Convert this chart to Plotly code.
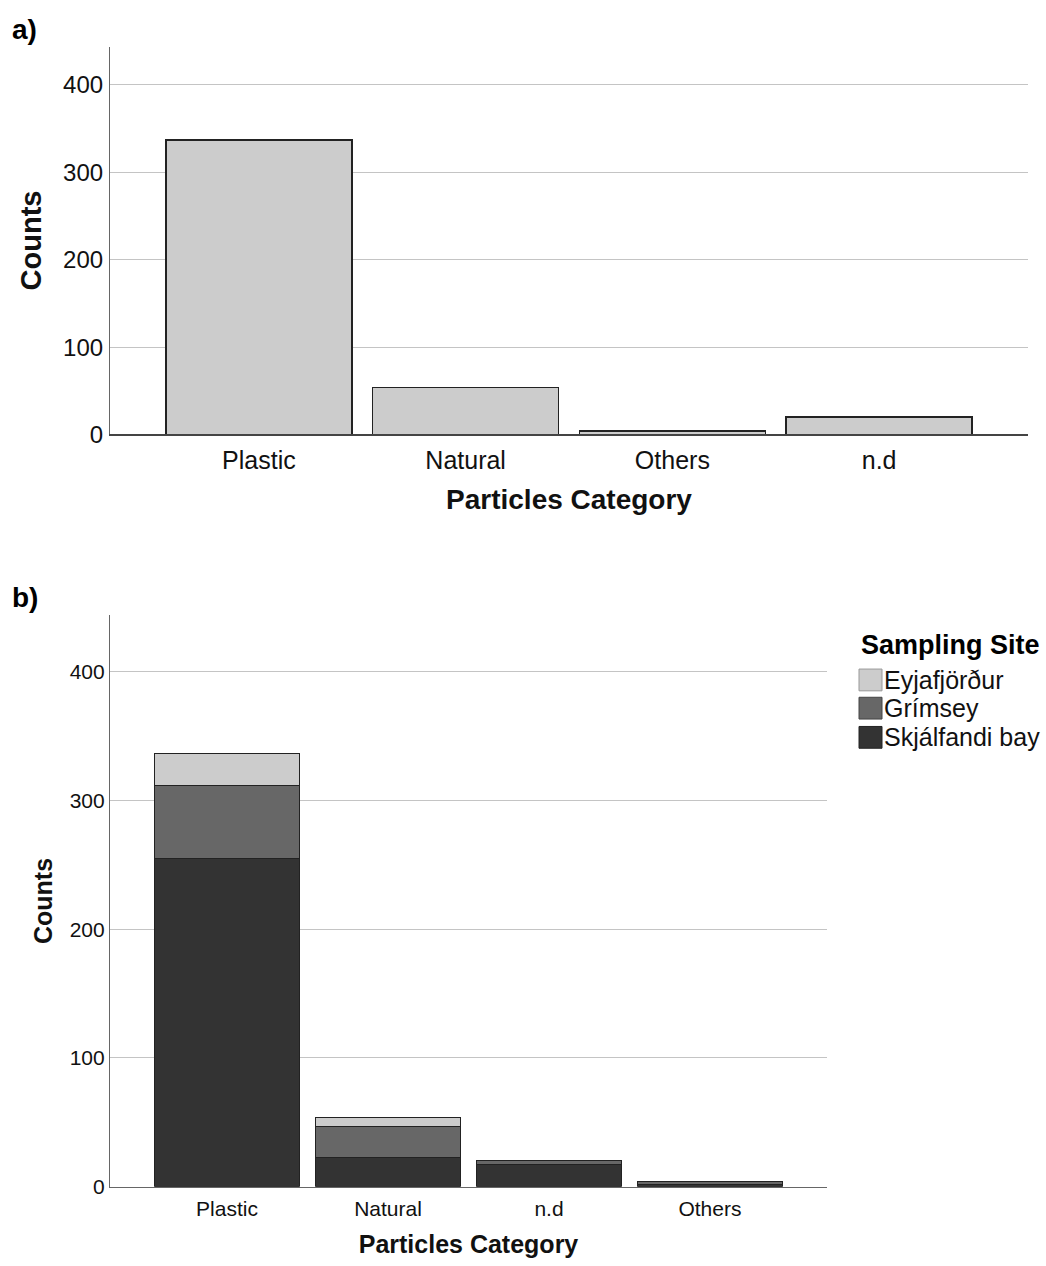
import plotly.graph_objects as go

W, H = 1046, 1266
FONT = "Liberation Sans, Arial, sans-serif"

# ---- data: panel a ----
cats_a = ["Plastic", "Natural", "Others", "n.d"]
counts_a = [337, 54, 4, 20]

# ---- data: panel b ----
cats_b = ["Plastic", "Natural", "n.d", "Others"]
sites = ["Eyjafjörður", "Grímsey", "Skjálfandi bay"]
eyja = [25, 7, 0, 0]
grims = [57, 24, 3, 2]
skjal = [255, 23, 17, 2]
site_colors = ["#cccccc", "#676767", "#333333"]

y_ticks = [0, 100, 200, 300, 400]

fig = go.Figure()

fig.add_trace(go.Bar(
    x=cats_a, y=counts_a, xaxis="x", yaxis="y",
    marker=dict(color="#cccccc", line=dict(color="#222222", width=1.6)),
    name="Counts", showlegend=False,
))

# stacked: bottom to top
for name, vals, col in [(sites[2], skjal, site_colors[2]),
                        (sites[1], grims, site_colors[1]),
                        (sites[0], eyja, site_colors[0])]:
    fig.add_trace(go.Bar(
        x=cats_b, y=vals, xaxis="x2", yaxis="y2", name=name,
        marker=dict(color=col, line=dict(color="#222222", width=1)),
        showlegend=False,
    ))

def px(x):
    return x / W

def py(y):
    return 1 - y / H

axis_common = dict(showgrid=False, ticks="", zeroline=False)

fig.update_layout(
    width=W, height=H,
    margin=dict(l=0, r=0, t=0, b=0),
    paper_bgcolor="white", plot_bgcolor="white",
    barmode="stack", bargap=0.1,
    showlegend=False,
    font=dict(family=FONT, color="#111111"),
    xaxis=dict(
        domain=[px(110), px(1028)], anchor="y", type="category",
        categoryorder="array", categoryarray=cats_a, range=[-0.72, 3.72],
        showline=True, linecolor="#444444", linewidth=1.5,
        tickfont=dict(size=25), ticklabelstandoff=3,
        title=dict(text="<b>Particles Category</b>", font=dict(size=28), standoff=16),
        **axis_common,
    ),
    yaxis=dict(
        domain=[py(439), py(47)], anchor="x", range=[0, 444],
        tickvals=y_ticks, showline=True, linecolor="#666666", linewidth=1.2,
        gridcolor="#c4c4c4", gridwidth=1.2, showgrid=True,
        tickfont=dict(size=24), ticklabelstandoff=1,
        title=dict(text="<b>Counts</b>", font=dict(size=29), standoff=12),
        ticks="", zeroline=False,
    ),
    xaxis2=dict(
        domain=[px(110), px(827)], anchor="y2", type="category",
        categoryorder="array", categoryarray=cats_b, range=[-0.727, 3.727],
        showline=True, linecolor="#666666", linewidth=1.3,
        tickfont=dict(size=21), ticklabelstandoff=3,
        title=dict(text="<b>Particles Category</b>", font=dict(size=25), standoff=16),
        **axis_common,
    ),
    yaxis2=dict(
        domain=[py(1199), py(621.7)], anchor="x2", range=[0, 444],
        tickvals=y_ticks, showline=True, linecolor="#666666", linewidth=1.2,
        gridcolor="#c4c4c4", gridwidth=1.2, showgrid=True,
        tickfont=dict(size=21), ticklabelstandoff=0,
        title=dict(text="<b>Counts</b>", font=dict(size=25), standoff=9),
        ticks="", zeroline=False,
    ),
)

annotations = [
    dict(text="<b>a)</b>", x=px(10), y=py(30), xref="paper", yref="paper",
         xanchor="left", yanchor="middle", showarrow=False, font=dict(size=28, color="#000")),
    dict(text="<b>b)</b>", x=px(10), y=py(604), xref="paper", yref="paper",
         xanchor="left", yanchor="middle", showarrow=False, font=dict(size=28, color="#000")),
    dict(text="<b>Sampling Site</b>", x=px(859), y=py(652), xref="paper", yref="paper",
         xanchor="left", yanchor="middle", showarrow=False, font=dict(size=27, color="#000")),
]
shapes = []
legend_rows = [(sites[0], site_colors[0], "#999999", 687),
               (sites[1], site_colors[1], "#444444", 715.5),
               (sites[2], site_colors[2], "#222222", 745)]
for name, col, lc, cy in legend_rows:
    shapes.append(dict(type="rect", xref="paper", yref="paper",
                       x0=px(859), x1=px(882), y0=py(cy + 11), y1=py(cy - 11),
                       fillcolor=col, line=dict(color=lc, width=1)))
    annotations.append(dict(text=name, x=px(882), y=py(cy), xref="paper", yref="paper",
                            xanchor="left", yanchor="middle", showarrow=False,
                            font=dict(size=25, color="#111")))

fig.update_layout(annotations=annotations, shapes=shapes)

fig.write_html("out.html")
